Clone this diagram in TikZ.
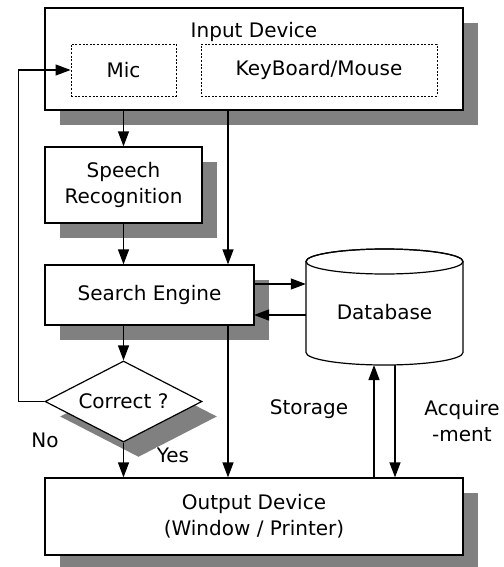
\documentclass[tikz,border=0pt]{standalone}
\usepackage{fontspec}
\setmainfont{DejaVu Sans}
\usetikzlibrary{arrows.meta,shapes.geometric,shadows}
\definecolor{shadowgray}{RGB}{128,128,128}
\begin{document}
\begin{tikzpicture}[x=1pt,y=-1pt,
  font=\fontsize{20}{26}\selectfont,
  every node/.style={inner sep=0pt},
  shad/.style={drop shadow={opacity=1, fill=shadowgray, shadow xshift=15pt, shadow yshift=-15pt}},
  box/.style={draw, line width=1.2pt, fill=white, rectangle, align=center, shad},
  dbox/.style={draw, line width=0.9pt, dash pattern=on 2pt off 1.6pt, rectangle},
  arr/.style={line width=1.2pt, -{Triangle[length=15pt,width=11pt]}},
  ln/.style={line width=1.2pt}
]
\useasboundingbox (0,0) rectangle (503,567);
% boxes
\node[box, minimum width=418pt, minimum height=102pt] (inp) at (254,59) {};
\node (inptxt) at (254,32) {Input Device};
\node[dbox, minimum width=105pt, minimum height=52pt] (mic) at (123.5,70) {Mic};
\node[dbox, minimum width=236pt, minimum height=52pt] (kb) at (319,70) {KeyBoard/Mouse};
\node[box, minimum width=157pt, minimum height=76pt] (sr) at (123.5,185) {Speech\\Recognition};
\node[box, minimum width=209pt, minimum height=60pt] (se) at (149.5,295) {Search Engine};
\node[draw, line width=1.2pt, fill=white, shape=diamond, aspect=2, minimum width=157pt, minimum height=81pt, shad] (cor) at (123.5,401.5) {Correct ?};
\node[box, minimum width=418pt, minimum height=77pt] (out) at (254,516.5) {Output Device\\(Window / Printer)};
% database cylinder
\node[minimum width=157pt, minimum height=116pt] (db) at (384.5,307) {};
\draw[ln, fill=white] (306,261.5) -- (306,352.5)
  arc[start angle=180, end angle=360, x radius=78.5pt, y radius=12.5pt]
  -- (463,261.5)
  arc[start angle=0, end angle=180, x radius=78.5pt, y radius=12.5pt] -- cycle;
\draw[ln] (384.5,261.5) ellipse[x radius=78.5pt, y radius=12.5pt];
\node (dbt) at (384.5,312) {Database};
% coordinates
\coordinate (kx) at (228,200);
\coordinate (e1) at (254,284);
\coordinate (e2) at (254,315);
\coordinate (st) at (374,365);
\coordinate (aq) at (395,365);
% connectors
\draw[arr] (inp.south -| sr.north) -- (sr.north);
\draw[arr] (inp.south -| kx) -- (se.north -| kx);
\draw[arr] (sr.south) -- (se.north -| sr.south);
\draw[arr] (se.south -| cor.north) -- (cor.north);
\draw[arr] (se.south -| kx) -- (out.north -| kx);
\draw[arr] (cor.south) -- (out.north -| cor.south);
\draw[arr] (cor.west) -- ++(-26,0) |- (mic.west);
\draw[arr] (e1) -- (e1 -| db.west);
\draw[arr] (e2 -| db.west) -- (e2);
\draw[arr] (out.north -| st) -- (st);
\draw[arr] (aq) -- (out.north -| aq);
% labels
\node (no) at (45,440) {No};
\node[fill=white, inner sep=1pt] (yes) at (173,455) {Yes};
\node (stor) at (309,409) {Storage};
\node[align=center] (acq) at (462,421) {Acquire\\-ment};
\end{tikzpicture}
\end{document}
